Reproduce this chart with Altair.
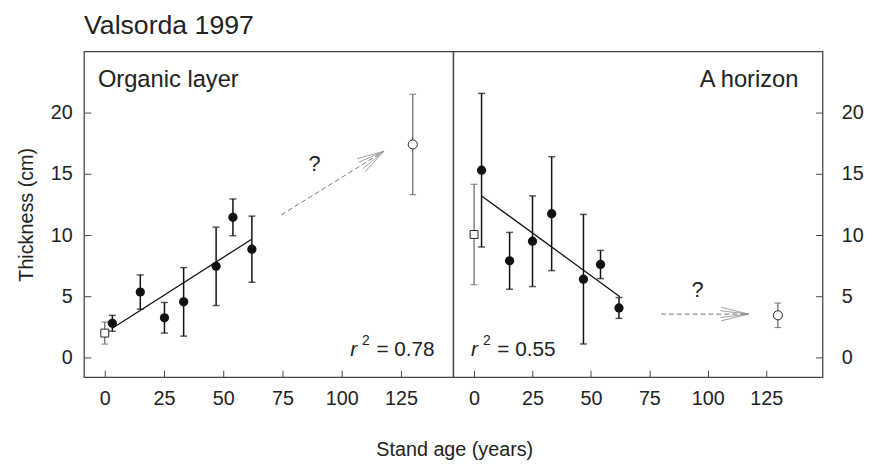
import altair as alt
import pandas as pd

FONT = "Liberation Sans"

# ---------------- data ----------------
x_ticks = [0, 25, 50, 75, 100, 125]
y_ticks = [0, 5, 10, 15, 20]

# Organic layer
org_age = [3.2, 15.0, 25.2, 33.3, 47.0, 54.1, 62.1]
org_mean = [2.8, 5.35, 3.25, 4.55, 7.45, 11.45, 8.85]
org_err = [0.65, 1.4, 1.25, 2.8, 3.2, 1.5, 2.7]
org_ref = {"age": [0.0], "mean": [2.0], "err": [0.9]}          # open square
org_old = {"age": [130.0], "mean": [17.4], "err": [4.1]}       # open circle
org_fit_age = [3.2, 62.0]
org_fit_val = [2.39, 9.66]

# A horizon
ah_age = [3.2, 15.2, 25.0, 33.2, 46.8, 54.1, 62.0]
ah_mean = [15.3, 7.9, 9.5, 11.75, 6.4, 7.6, 4.05]
ah_err = [6.27, 2.32, 3.7, 4.65, 5.29, 1.15, 0.85]
ah_ref = {"age": [0.0], "mean": [10.05], "err": [4.1]}
ah_old = {"age": [130.0], "mean": [3.45], "err": [1.0]}
ah_fit_age = [3.2, 62.4]
ah_fit_val = [13.2, 4.97]

# annotations (data coordinates)
org_arrow = {"x": [74.5], "y": [11.65], "x2": [117.8], "y2": [16.84]}
org_barbs = {"x": [117.8, 117.8, 117.8, 117.8], "y": [16.84, 16.84, 16.84, 16.84],
             "x2": [106.5, 109.9, 107.1, 108.8], "y2": [16.24, 15.18, 15.94, 15.41]}
ah_arrow = {"x": [80.0], "y": [3.55], "x2": [117.4], "y2": [3.55]}
ah_barbs = {"x": [117.4, 117.4, 117.4, 117.4], "y": [3.55, 3.55, 3.55, 3.55],
            "x2": [105.7, 105.7, 105.4, 105.4], "y2": [4.11, 3.0, 3.83, 3.27]}
org_q = {"x": [88.5], "y": [15.8], "t": ["?"]}
ah_q = {"x": [95.6], "y": [5.47], "t": ["?"]}
org_label = {"x": [-2.9], "y": [22.07], "t": ["Organic layer"]}
ah_label = {"x": [138.8], "y": [22.07], "t": ["A horizon"]}
org_r2 = {"x": [103.6], "y": [0.12], "v": ["= 0.78"]}
ah_r2 = {"x": [-1.27], "y": [0.12], "v": ["= 0.55"]}

Y_DOMAIN = [-1.6, 25.0]


def panel(age, mean, err, ref, old, fit_age, fit_val, arrow, barbs, q, label,
          label_align, r2, x_domain, y_orient, y_title, label_pad, x_title):
    xs = alt.Scale(domain=x_domain, nice=False, zero=False)
    ys = alt.Scale(domain=Y_DOMAIN, nice=False, zero=False)

    xaxis_kw = dict(values=x_ticks, offset=-7, tickSize=7, domain=False, grid=False,
                    labelFontSize=20, labelPadding=12, tickColor="#444",
                    labelColor="#222", labelFont=FONT)
    if x_title:
        xaxis = alt.Axis(title=x_title, titleFontSize=20, titleFont=FONT,
                         titleFontWeight="normal", titleColor="#222",
                         titleX=1, titleY=86, titleAlign="center",
                         titleBaseline="alphabetic", **xaxis_kw)
    else:
        xaxis = alt.Axis(title=None, **xaxis_kw)

    yaxis_kw = dict(values=y_ticks, orient=y_orient, offset=-7, tickSize=7,
                    domain=False, grid=False, labelFontSize=20,
                    labelPadding=label_pad, tickColor="#444", labelColor="#222",
                    labelFont=FONT)
    if y_title:
        yaxis = alt.Axis(title=y_title, titleFontSize=20, titleFont=FONT,
                         titleFontWeight="normal", titleColor="#222",
                         titlePadding=14, **yaxis_kw)
    else:
        yaxis = alt.Axis(title=None, **yaxis_kw)

    main = pd.DataFrame({"age": age, "mean": mean, "err": err})
    main["lo"] = main["mean"] - main["err"]
    main["hi"] = main["mean"] + main["err"]
    refd = pd.DataFrame(ref)
    oldd = pd.DataFrame(old)
    opn = pd.concat([refd.assign(kind="ref"), oldd.assign(kind="old")])
    opn["lo"] = opn["mean"] - opn["err"]
    opn["hi"] = opn["mean"] + opn["err"]
    fit = pd.DataFrame({"age": fit_age, "val": fit_val})

    X = lambda f: alt.X(f, type="quantitative", scale=xs, axis=xaxis)
    Y = lambda f: alt.Y(f, type="quantitative", scale=ys, axis=yaxis)

    base_main = alt.Chart(main)
    base_open = alt.Chart(opn)

    layers = []
    # open-marker error bars (grey)
    layers.append(base_open.mark_rule(color="#555", strokeWidth=1.1).encode(
        x=X("age"), y=Y("lo"), y2="hi"))
    for f in ["lo", "hi"]:
        layers.append(base_open.mark_tick(color="#555", orient="horizontal",
                                          size=7, thickness=1.1).encode(x=X("age"), y=Y(f)))
    # filled error bars
    layers.append(base_main.mark_rule(color="#111", strokeWidth=1.5).encode(
        x=X("age"), y=Y("lo"), y2="hi"))
    for f in ["lo", "hi"]:
        layers.append(base_main.mark_tick(color="#111", orient="horizontal",
                                          size=7, thickness=1.5).encode(x=X("age"), y=Y(f)))
    # fit line
    layers.append(alt.Chart(fit).mark_line(color="#111", strokeWidth=1.3).encode(
        x=X("age"), y=Y("val")))
    # dashed arrow
    layers.append(alt.Chart(pd.DataFrame(arrow)).mark_rule(
        color="#777", strokeWidth=1, strokeDash=[5, 3]).encode(
        x=X("x"), y=Y("y"), x2="x2", y2="y2"))
    layers.append(alt.Chart(pd.DataFrame(barbs)).mark_rule(
        color="#888", strokeWidth=0.8).encode(
        x=X("x"), y=Y("y"), x2="x2", y2="y2"))
    # markers
    layers.append(base_main.mark_circle(size=88, color="#111", opacity=1).encode(
        x=X("age"), y=Y("mean")))
    layers.append(alt.Chart(refd).mark_point(shape="square", size=64, filled=True,
                                            fill="white", stroke="#222", strokeWidth=1,
                                            opacity=1).encode(x=X("age"), y=Y("mean")))
    layers.append(alt.Chart(oldd).mark_point(shape="circle", size=85, filled=True,
                                            fill="white", stroke="#222", strokeWidth=1,
                                            opacity=1).encode(x=X("age"), y=Y("mean")))
    # texts
    layers.append(alt.Chart(pd.DataFrame(q)).mark_text(
        font=FONT, fontSize=22, color="#222", align="center", baseline="middle").encode(
        x=X("x"), y=Y("y"), text="t:N"))
    layers.append(alt.Chart(pd.DataFrame(label)).mark_text(
        font=FONT, fontSize=24, color="#222", align=label_align,
        baseline="alphabetic").encode(x=X("x"), y=Y("y"), text="t:N"))
    r2d = pd.DataFrame(r2)
    layers.append(alt.Chart(r2d).mark_text(
        font=FONT, fontSize=21, fontStyle="italic", color="#222", align="left",
        baseline="alphabetic").encode(x=X("x"), y=Y("y"), text=alt.value("r")))
    layers.append(alt.Chart(r2d).mark_text(
        font=FONT, fontSize=14, color="#222", align="left", baseline="alphabetic",
        dx=12, dy=-11).encode(x=X("x"), y=Y("y"), text=alt.value("2")))
    layers.append(alt.Chart(r2d).mark_text(
        font=FONT, fontSize=21, color="#222", align="left", baseline="alphabetic",
        dx=26.5).encode(x=X("x"), y=Y("y"), text="v:N"))

    return alt.layer(*layers)


left = panel(org_age, org_mean, org_err, org_ref, org_old, org_fit_age, org_fit_val,
             org_arrow, org_barbs, org_q, org_label, "left", org_r2,
             [-8.75, 147.1], "left", "Thickness (cm)", 12, None).properties(
    width=374, height=330,
    title=alt.TitleParams("Valsorda 1997", anchor="start", frame="group",
                          fontSize=27, font=FONT, fontWeight="normal",
                          color="#222", baseline="alphabetic", offset=-9))

right = panel(ah_age, ah_mean, ah_err, ah_ref, ah_old, ah_fit_age, ah_fit_val,
              ah_arrow, ah_barbs, ah_q, ah_label, "right", ah_r2,
              [-8.9, 149.1], "right", None, 19, "Stand age (years)").properties(
    width=374, height=330)

chart = alt.hconcat(left, right, spacing=0, bounds="flush").properties(
    padding={"left": 8, "top": 0, "right": 0, "bottom": 0},
    background="white"
).configure_view(stroke="#444", strokeWidth=1.3)

chart.save("out.html", embed_options={"renderer": "svg", "actions": False})
